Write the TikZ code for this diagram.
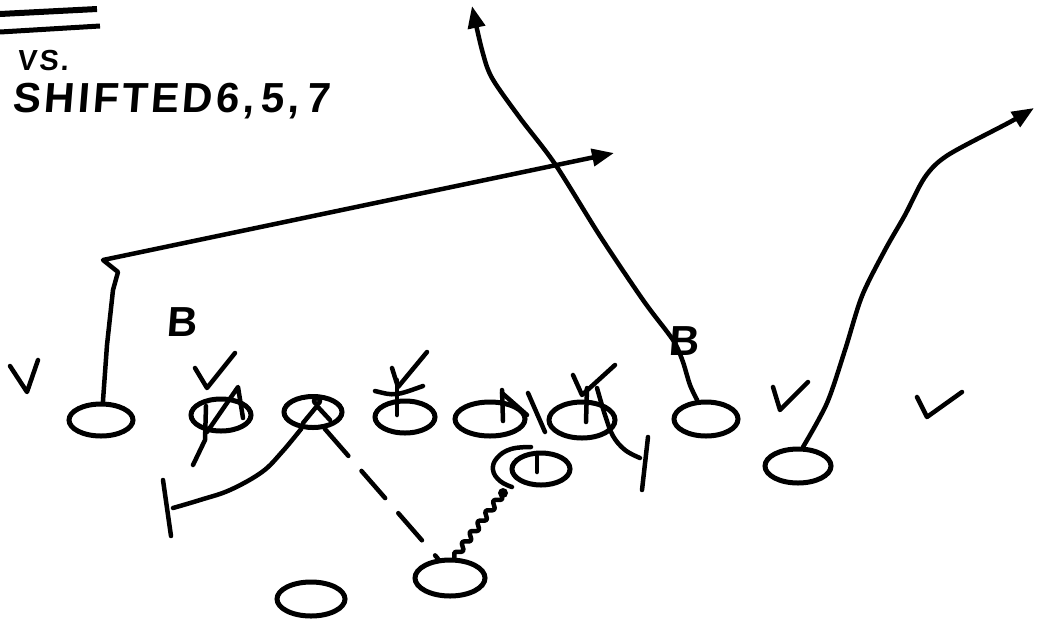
\documentclass[tikz,border=0pt]{standalone}
\usepackage{fontspec}
\newfontfamily\hand[FakeSlant=0.08]{Liberation Sans}
\newfontfamily\handwide[FakeSlant=0.08,LetterSpace=8]{Liberation Sans}
\usetikzlibrary{shapes.geometric,arrows.meta,decorations.pathmorphing}
\begin{document}
\begin{tikzpicture}[x=1pt,y=-1pt,
  ink/.style={line width=4.5pt,line cap=round,line join=round},
  player/.style={ellipse,draw,line width=5pt,inner sep=0pt},
  lbl/.style={font=\hand\bfseries\fontsize{42}{42}\selectfont,inner sep=0pt},
  tip/.style={-{Triangle[length=22pt,width=17pt]}}
]
\useasboundingbox (0,0) rectangle (1041,622);

% title fragments
\draw[line width=6pt] (0,14) -- (97,9);
\draw[line width=5pt] (0,32) -- (100,26);
\node[font=\handwide\bfseries\fontsize{29}{29}\selectfont,anchor=west,inner sep=0pt] (vs) at (17,61) {VS.};
\node[font=\handwide\bfseries\fontsize{42}{42}\selectfont,anchor=west,inner sep=0pt] (shift) at (12,101) {SHIFTED6,\,5,\,7};

% players
\node[player,minimum width=64pt,minimum height=32pt] (o1) at (101,420) {};
\node[player,minimum width=60pt,minimum height=32pt] (o2) at (221,415) {};
\node[player,minimum width=58pt,minimum height=31pt] (o3) at (313,412) {};
\node[player,minimum width=60pt,minimum height=32pt] (o4) at (405,417) {};
\node[player,minimum width=70pt,minimum height=34pt] (o5) at (490,419) {};
\node[player,minimum width=66pt,minimum height=36pt] (o6) at (582,420) {};
\node[player,minimum width=58pt,minimum height=32pt] (o7) at (541,469) {};
\node[player,minimum width=64pt,minimum height=34pt] (o8) at (706,419) {};
\node[player,minimum width=66pt,minimum height=34pt] (o9) at (798,466) {};
\node[player,minimum width=70pt,minimum height=36pt] (o10) at (450,578) {};
\node[player,minimum width=68pt,minimum height=34pt] (o11) at (311,599) {};

% labels B
\node[lbl] (b1) at (182,322) {B};
\node[lbl] (b2) at (684,341) {B};

% defensive marks
\draw[ink] (10,366) -- (27,392) -- (38,360);
\draw[ink] (195,368) -- (207,388) -- (235,353);
\draw[ink] (392,368) -- (398,387) -- (427,352);
\draw[ink] (375,391) .. controls (395,396) .. (423,386);
\draw[ink] (397,380) -- (397,415);
\draw[ink] (573,375) -- (582,395) -- (615,365);
\draw[ink] (773,387) -- (780,410) -- (808,382);
\draw[ink] (917,397) -- (927,417) -- (962,392);

% marks inside players
\draw[ink] (206,406) -- (205,440) -- (193,465);
\draw[ink] (207,432) -- (238,387) -- (243,418);
\draw[ink] (303,423) -- (317,406);
\draw[ink] (317,406) -- (330,420);
\draw[ink] (317,401) circle (3pt);
\draw[ink] (502,390) -- (503,421);
\draw[ink] (502,393) -- (527,415);
\draw[ink] (528,393) -- (545,432);
\draw[ink] (587,388) -- (586,422);
\draw[ink] (537,456) -- (537,472);
\draw[ink] plot[smooth,tension=0.7] coordinates {(531,447) (511,449) (497,458) (493,470) (500,481) (512,487)};

% routes
\draw[ink,tip] (o1.84) -- (107,345) -- (113,290) -- (118,272) -- (103,260) -- (614,153);
\draw[ink,tip] plot[smooth,tension=0.5] coordinates {(o8.115) (690,385) (683,362) (676,345) (668,333) (643,300) (600,236) (555,164) (520,118) (492,78) (482,50) (472,6)};
\draw[ink,tip] plot[smooth,tension=0.5] coordinates {(o9.75) (827,403) (845,350) (862,296) (885,250) (905,215) (925,177) (948,155) (1010,122) (1034,108)};

% blocks
\draw[ink] plot[smooth,tension=0.6] coordinates {(o3.235) (282,452) (262,472) (230,490) (200,500) (173,508)};
\draw[ink] (163,480) -- (171,536);
\draw[ink] plot[smooth,tension=0.6] coordinates {(597,388) (605,415) (613,436) (625,450) (640,458)};
\draw[ink] (648,437) -- (642,490);

% backfield
\draw[ink,dash pattern=on 36pt off 20pt] (o3.-55) -- (o10.122);
\draw[ink,decorate,decoration={snake,amplitude=3pt,segment length=13pt}] (o10.78) -- (503,493);
\fill (503,493) circle (5pt);
\end{tikzpicture}
\end{document}
